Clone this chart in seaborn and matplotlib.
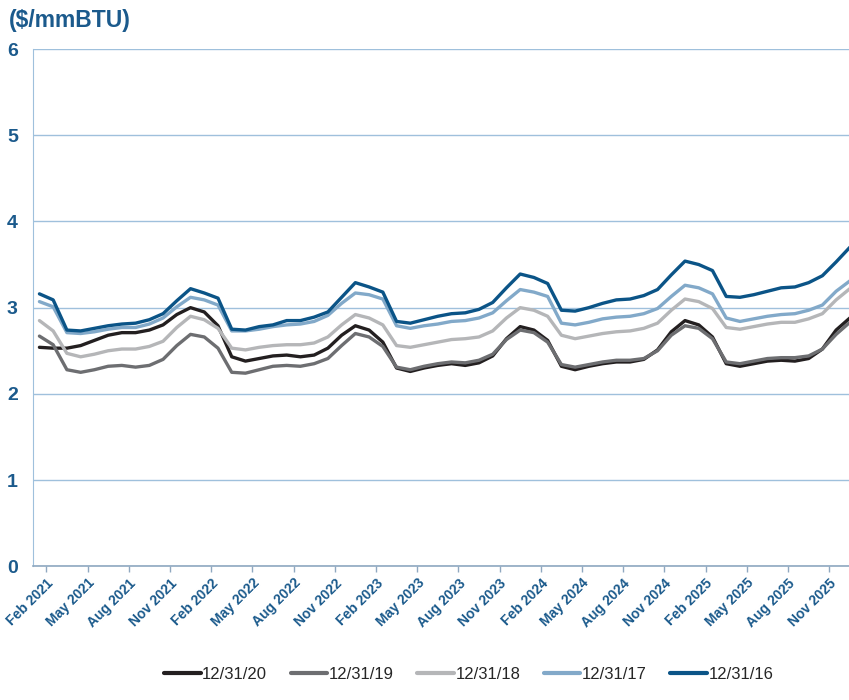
import numpy as np
import pandas as pd
import matplotlib.pyplot as plt
import seaborn as sns

# forward curves, monthly Feb 2021 .. Jan 2026 ($/mmBTU)
months = pd.date_range('2021-02-01', periods=60, freq='MS')

curve_20 = [2.54, 2.53, 2.53, 2.56, 2.62, 2.68, 2.71, 2.71, 2.74, 2.80, 2.92, 3.00,
            2.95, 2.79, 2.43, 2.38, 2.41, 2.44, 2.45, 2.43, 2.45, 2.53, 2.68, 2.79,
            2.74, 2.60, 2.30, 2.26, 2.30, 2.33, 2.35, 2.33, 2.36, 2.44, 2.64, 2.78,
            2.74, 2.62, 2.32, 2.28, 2.32, 2.35, 2.37, 2.37, 2.40, 2.51, 2.72, 2.85,
            2.80, 2.66, 2.35, 2.32, 2.35, 2.38, 2.39, 2.38, 2.41, 2.52, 2.74, 2.88]
curve_19 = [2.67, 2.57, 2.28, 2.25, 2.28, 2.32, 2.33, 2.31, 2.33, 2.40, 2.56, 2.69,
            2.66, 2.53, 2.25, 2.24, 2.28, 2.32, 2.33, 2.32, 2.35, 2.41, 2.56, 2.70,
            2.66, 2.55, 2.31, 2.28, 2.32, 2.35, 2.37, 2.36, 2.39, 2.46, 2.63, 2.74,
            2.71, 2.60, 2.34, 2.31, 2.34, 2.37, 2.39, 2.39, 2.41, 2.50, 2.68, 2.79,
            2.76, 2.64, 2.37, 2.35, 2.38, 2.41, 2.42, 2.42, 2.44, 2.52, 2.69, 2.83]
curve_18 = [2.85, 2.73, 2.47, 2.43, 2.46, 2.50, 2.52, 2.52, 2.55, 2.61, 2.77, 2.90,
            2.86, 2.76, 2.53, 2.51, 2.54, 2.56, 2.57, 2.57, 2.59, 2.66, 2.80, 2.92,
            2.88, 2.80, 2.56, 2.54, 2.57, 2.60, 2.63, 2.64, 2.66, 2.73, 2.88, 3.00,
            2.97, 2.90, 2.68, 2.64, 2.67, 2.70, 2.72, 2.73, 2.76, 2.82, 2.97, 3.10,
            3.07, 2.99, 2.77, 2.75, 2.78, 2.81, 2.83, 2.83, 2.87, 2.93, 3.09, 3.22]
curve_17 = [3.07, 3.01, 2.71, 2.70, 2.72, 2.75, 2.77, 2.77, 2.81, 2.88, 3.01, 3.12,
            3.09, 3.03, 2.73, 2.73, 2.75, 2.78, 2.80, 2.81, 2.84, 2.91, 3.05, 3.17,
            3.15, 3.10, 2.79, 2.76, 2.79, 2.81, 2.84, 2.85, 2.88, 2.94, 3.08, 3.21,
            3.18, 3.13, 2.82, 2.80, 2.83, 2.87, 2.89, 2.90, 2.93, 2.99, 3.13, 3.26,
            3.23, 3.16, 2.88, 2.84, 2.87, 2.90, 2.92, 2.93, 2.97, 3.03, 3.19, 3.31]
curve_16 = [3.16, 3.09, 2.74, 2.73, 2.76, 2.79, 2.81, 2.82, 2.86, 2.93, 3.08, 3.22,
            3.17, 3.11, 2.75, 2.74, 2.78, 2.80, 2.85, 2.85, 2.89, 2.95, 3.12, 3.29,
            3.24, 3.18, 2.84, 2.82, 2.86, 2.90, 2.93, 2.94, 2.98, 3.06, 3.23, 3.39,
            3.35, 3.28, 2.97, 2.96, 3.00, 3.05, 3.09, 3.10, 3.14, 3.21, 3.38, 3.54,
            3.50, 3.43, 3.13, 3.12, 3.15, 3.19, 3.23, 3.24, 3.29, 3.37, 3.53, 3.70]

labels = ['12/31/20', '12/31/19', '12/31/18', '12/31/17', '12/31/16']
colors = ['#231f20', '#6d6e71', '#b5b6b8', '#82a9c9', '#0b5487']

df = pd.DataFrame({'x': np.arange(len(months))})
for lab, vals in zip(labels, [curve_20, curve_19, curve_18, curve_17, curve_16]):
    df[lab] = vals
long = df.melt(id_vars='x', var_name='curve', value_name='price')

sns.set_style('white')
plt.rcParams['font.family'] = ['Liberation Sans', 'DejaVu Sans']

fig = plt.figure(figsize=(8.49, 7.0), dpi=100)
ax = fig.add_axes([0.039, 0.191, 0.962, 0.739])

sns.lineplot(data=long, x='x', y='price', hue='curve', hue_order=labels,
             palette=colors, linewidth=2.4, ax=ax, legend=False)

grid_c = '#9fc0dc'
ax.set_ylim(0, 6)
ax.set_yticks(range(0, 7))
ax.yaxis.grid(True, color=grid_c, linewidth=1)
ax.set_xlim(-0.46, 59.0)

tick_pos = np.arange(0, 60, 3) + 0.5
ax.set_xticks(tick_pos)
ax.set_xticklabels([m.strftime('%b %Y') for m in months[::3]], rotation=45,
                   ha='right', rotation_mode='anchor', fontsize=10,
                   fontweight='bold', color='#1b5a8c')
for t in ax.get_yticklabels():
    t.set_fontsize(14)
    t.set_fontweight('bold')
    t.set_color('#1b5a8c')
ax.tick_params(axis='y', length=0, pad=11)
ax.tick_params(axis='x', length=4, width=1, color='#8fa8c0', direction='out', pad=3)
ax.xaxis.set_ticks_position('bottom')

for s in ['top', 'right']:
    ax.spines[s].set_visible(False)
ax.spines['left'].set_color(grid_c)
ax.spines['bottom'].set_color('#8fa8c0')
ax.spines['bottom'].set_linewidth(1.2)
ax.set_xlabel('')
ax.set_ylabel('')

fig.text(0.010, 0.97, '($/mmBTU)', fontsize=16.5, fontweight='bold',
         color='#1b5a8c', va='center', ha='left')

handles = [plt.Line2D([], [], color=c, linewidth=3) for c in colors]
fig.legend(handles, labels, loc='center', bbox_to_anchor=(0.552, 0.036), ncol=5,
           frameon=False, fontsize=12, handlelength=2.2, handletextpad=0.1,
           columnspacing=1.4)

fig.savefig('out.png', dpi=100)
